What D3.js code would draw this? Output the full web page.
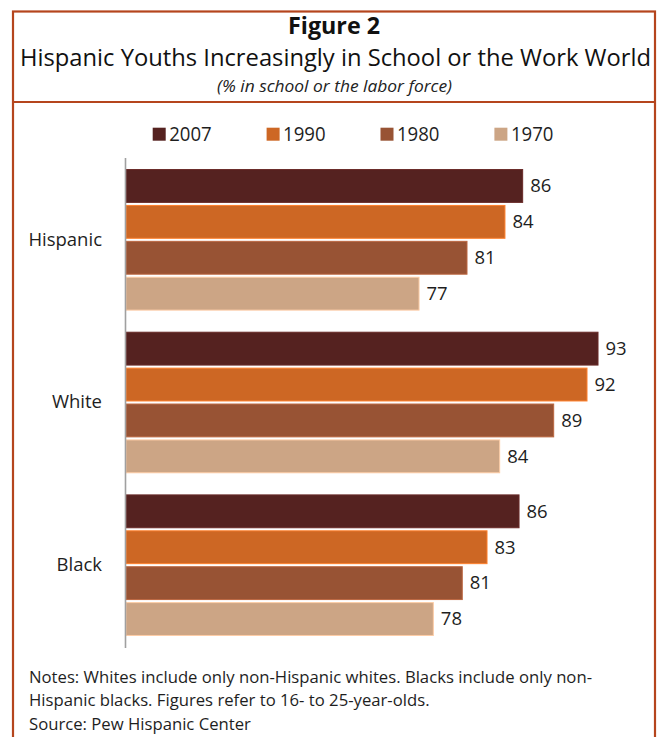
<!DOCTYPE html>
<html>
<head>
<meta charset="utf-8">
<script src="https://cdn.jsdelivr.net/npm/d3@7"></script>
<style>
  html, body { margin: 0; padding: 0; background: #fff; }
  svg { display: block; font-family: "Open Sans", "Noto Sans", sans-serif; }
</style>
</head>
<body>
<svg id="chart" width="659" height="737"></svg>
<script>
// ---- data ----
const categories = ["Hispanic", "White", "Black"];
const years = ["2007", "1990", "1980", "1970"];
const values2007 = [86.06, 92.91, 85.73];
const values1990 = [84.45, 91.91, 82.82];
const values1980 = [81.0, 88.88, 80.57];
const values1970 = [76.64, 83.97, 77.94];
const yearColors = ["#552220", "#cd6724", "#985334", "#cca585"];
const titleText = "Figure 2";
const subtitleText = "Hispanic Youths Increasingly in School or the Work World";
const unitText = "(% in school or the labor force)";
const noteLines = [
  "Notes: Whites include only non-Hispanic whites. Blacks include only non-",
  "Hispanic blacks. Figures refer to 16- to 25-year-olds."
];
const sourceText = "Source: Pew Hispanic Center";

const seriesValues = [values2007, values1990, values1980, values1970];
const rows = [];
categories.forEach((c, ci) => {
  years.forEach((y, yi) => rows.push({ category: c, year: y, value: seriesValues[yi][ci] }));
});

const svg = d3.select("#chart");
const frameColor = "#b5451d";
const textColor = "#1e1e1e";

// squeeze text horizontally to a target width (keeps font height)
function squeeze(sel, w) {
  const l = sel.node().getComputedTextLength();
  sel.attr("textLength", w).attr("lengthAdjust", "spacingAndGlyphs");
  return w / l;
}
function fit(sel, w) {
  const l = sel.node().getComputedTextLength();
  const fs = parseFloat(sel.attr("font-size"));
  sel.attr("font-size", (fs * w / l).toFixed(2));
}

// ---- frame ----
svg.append("rect")
  .attr("x", 13).attr("y", 11.5)
  .attr("width", 642).attr("height", 760)
  .attr("fill", "none").attr("stroke", frameColor).attr("stroke-width", 2.2);
svg.append("line")
  .attr("x1", 13).attr("x2", 655).attr("y1", 102).attr("y2", 102)
  .attr("stroke", frameColor).attr("stroke-width", 2.2);

// ---- titles ----
const t1 = svg.append("text").attr("x", 288).attr("y", 33.5)
  .attr("font-weight", "bold").attr("font-size", 22.5).attr("fill", "#111").text(titleText);
squeeze(t1, 92);
const t2 = svg.append("text").attr("x", 20).attr("y", 65.7)
  .attr("font-size", 23).attr("fill", "#111").text(subtitleText);
squeeze(t2, 631);
const t3 = svg.append("text").attr("x", 217).attr("y", 91.5)
  .attr("font-style", "italic").attr("font-size", 15.5).attr("fill", "#222").text(unitText);
squeeze(t3, 235);

// ---- scales ----
const y = d3.scaleBand().domain(categories).range([157.5, 647.5])
  .paddingInner(0.136).paddingOuter(0.074);
const yInner = d3.scaleBand().domain(years).range([0, y.bandwidth()]).paddingInner(0.085);
const x = d3.scaleLinear().domain([50, 100]).range([126, 676]);
const color = d3.scaleOrdinal().domain(years).range(yearColors);

// ---- bars ----
svg.append("g").selectAll("rect").data(rows).join("rect")
  .attr("x", x(50))
  .attr("y", d => y(d.category) + yInner(d.year))
  .attr("width", d => x(d.value) - x(50))
  .attr("height", yInner.bandwidth())
  .attr("fill", d => color(d.year))
  .attr("stroke", d => d3.color(color(d.year)).brighter(0.6))
  .attr("stroke-width", 1);

// ---- value labels ----
svg.append("g").selectAll("text").data(rows).join("text")
  .attr("x", d => x(d.value) + 7.5)
  .attr("y", d => y(d.category) + yInner(d.year) + yInner.bandwidth() / 2)
  .attr("dy", "0.34em")
  .attr("font-size", 18.5)
  .attr("fill", textColor)
  .text(d => d3.format(".0f")(d.value));

// ---- axis ----
const axis = svg.append("g").attr("transform", `translate(125,0)`)
  .call(d3.axisLeft(y).tickSize(0).tickSizeOuter(0).tickPadding(23));
axis.select(".domain").attr("stroke", "#a0a0a0").attr("stroke-width", 1.6);
axis.selectAll(".tick text")
  .attr("font-family", "'Open Sans', 'Noto Sans', sans-serif")
  .attr("font-size", 18.5).attr("fill", textColor);

// ---- legend ----
const legend = svg.append("g").selectAll("g").data(years).join("g")
  .attr("transform", (d, i) => `translate(${152.7 + i * 113.9},127.7)`);
legend.append("rect").attr("width", 13).attr("height", 13)
  .attr("fill", d => color(d));
legend.append("text").attr("x", 16.5).attr("y", 13.3)
  .attr("font-size", 19.5).attr("fill", textColor).text(d => d)
  .each(function () { squeeze(d3.select(this), 42.5); });

// ---- notes ----
const nfs = 16.8;
const n1 = svg.append("text").attr("x", 29).attr("y", 683.3)
  .attr("font-size", nfs).attr("fill", textColor).text(noteLines[0]);
const ratio = squeeze(n1, 563);
const n2 = svg.append("text").attr("x", 29).attr("y", 705.7)
  .attr("font-size", nfs).attr("fill", textColor).text(noteLines[1]);
squeeze(n2, n2.node().getComputedTextLength() * ratio);
const n3 = svg.append("text").attr("x", 29).attr("y", 730)
  .attr("font-size", nfs).attr("fill", textColor).text(sourceText);
squeeze(n3, n3.node().getComputedTextLength() * ratio);
</script>
</body>
</html>
